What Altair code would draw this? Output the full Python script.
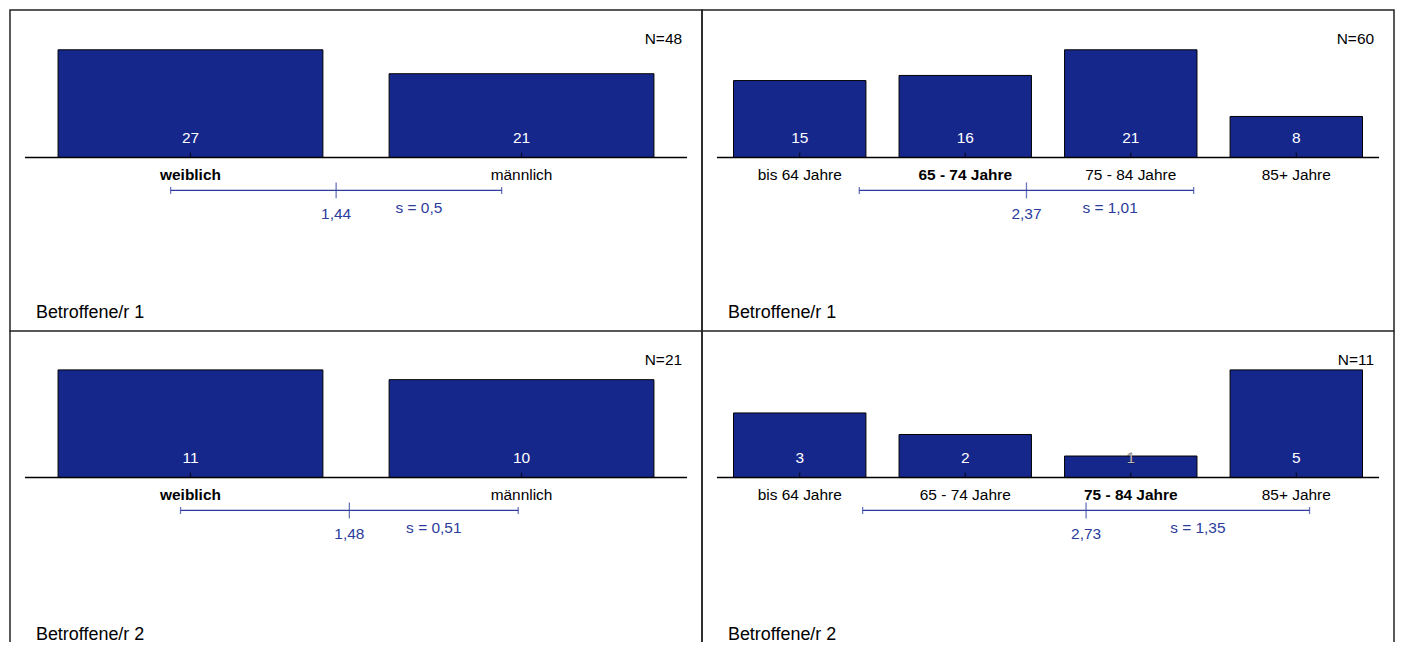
import altair as alt
import pandas as pd

# ---- data ----
gender_cats = ["weiblich", "männlich"]
age_cats = ["bis 64 Jahre", "65 - 74 Jahre", "75 - 84 Jahre", "85+ Jahre"]

p1_gender = [27, 21]
p1_age = [15, 16, 21, 8]
p2_gender = [11, 10]
p2_age = [3, 2, 1, 5]

n_values = [48, 60, 21, 11]
means = [1.44, 2.37, 1.48, 2.73]
sds = [0.5, 1.01, 0.51, 1.35]
titles = ["Betroffene/r 1", "Betroffene/r 1", "Betroffene/r 2", "Betroffene/r 2"]

BAR = "#16278c"
BLUE = "#2c3c9c"
FONT = "Liberation Sans"
W = 694
HT = 322
HB = 312


def de(x):
    return f"{x:g}".replace(".", ",")


def panel(cats, vals, n, mean, sd, title, height, base_px, bottom):
    k = len(cats)
    m = max(vals)
    unit = 108.0  # px height of largest bar
    df = pd.DataFrame({
        "pos": list(range(1, k + 1)),
        "cat": cats,
        "v": vals,
        "bold": [i + 1 == round(mean) for i in range(k)],
    })
    summ = pd.DataFrame({
        "mean": [mean], "sd": [sd], "k": [k],
        "mean_lbl": [de(mean)], "s_lbl": ["s = " + de(sd)],
        "n_lbl": [f"N={n}"], "title": [title],
    })
    pad = 15.0 * k / (W - 30)
    xs = alt.Scale(domain=[0.5 - pad, k + 0.5 + pad], nice=False, zero=False)
    ys = alt.Scale(domain=[-(height - base_px) / unit * m, base_px / unit * m],
                   nice=False, zero=False)

    base = alt.Chart(df)
    sb = alt.Chart(summ).transform_calculate(
        lo="datum.mean - datum.sd", hi="datum.mean + datum.sd",
        smid="datum.mean + datum.sd / 2",
        b0="0.5", b1="datum.k + 0.5")
    yb = alt.Y(datum=0, type="quantitative", scale=ys, axis=None)

    bars = base.transform_calculate(
        x0="datum.pos - 0.4", x1="datum.pos + 0.4"
    ).mark_rect(fill=BAR, stroke="black", strokeWidth=1).encode(
        x=alt.X("x0:Q", scale=xs, axis=None),
        x2="x1:Q",
        y=alt.Y("v:Q", scale=ys, axis=None),
        y2=alt.datum(0),
    )
    baseline = sb.mark_rule(color="black", strokeWidth=1.6).encode(
        x=alt.X("b0:Q", scale=xs, axis=None), x2="b1:Q", y=yb)
    cticks = base.mark_tick(orient="vertical", size=5, thickness=1.2,
                            color="black", yOffset=-2.5).encode(
        x=alt.X("pos:Q", scale=xs, axis=None), y=yb)
    vlabels = base.mark_text(font=FONT, fontSize=15.5, color="white",
                             dy=-20, baseline="middle", strokeWidth=0.35).encode(
        x=alt.X("pos:Q", scale=xs, axis=None), y=yb,
        text="v:Q",
        stroke=alt.condition(f"datum.v / {m} < 0.26", alt.value("black"),
                             alt.value("transparent")),
    )
    clabels_n = base.transform_filter("!datum.bold").mark_text(
        font=FONT, fontSize=15.5, color="black", dy=17.5, baseline="middle"
    ).encode(x=alt.X("pos:Q", scale=xs, axis=None), y=yb, text="cat:N")
    clabels_b = base.transform_filter("datum.bold").mark_text(
        font=FONT, fontSize=15.5, color="black", dy=17.5, baseline="middle",
        fontWeight="bold"
    ).encode(x=alt.X("pos:Q", scale=xs, axis=None), y=yb, text="cat:N")
    sdline = sb.mark_rule(color=BLUE, strokeWidth=1.3, yOffset=33).encode(
        x=alt.X("lo:Q", scale=xs, axis=None), x2="hi:Q", y=yb)
    lo_t = sb.mark_tick(orient="vertical", size=7, thickness=1.3, color=BLUE,
                        yOffset=33).encode(x=alt.X("lo:Q", scale=xs, axis=None), y=yb)
    hi_t = sb.mark_tick(orient="vertical", size=7, thickness=1.3, color=BLUE,
                        yOffset=33).encode(x=alt.X("hi:Q", scale=xs, axis=None), y=yb)
    mean_t = sb.mark_tick(orient="vertical", size=16, thickness=1.3, color=BLUE,
                          yOffset=33).encode(x=alt.X("mean:Q", scale=xs, axis=None), y=yb)
    mean_lbl = sb.mark_text(font=FONT, fontSize=15.5, color=BLUE, dy=57,
                            baseline="middle").encode(
        x=alt.X("mean:Q", scale=xs, axis=None), y=yb, text="mean_lbl:N")
    s_lbl = sb.mark_text(font=FONT, fontSize=15.5, color=BLUE, dy=51,
                         baseline="middle").encode(
        x=alt.X("smid:Q", scale=xs, axis=None), y=yb, text="s_lbl:N")
    n_lbl = alt.Chart(summ).mark_text(font=FONT, fontSize=15.5, color="black",
                                      align="right", baseline="middle").encode(
        x=alt.value(W - 20), y=alt.value(29), text="n_lbl:N")
    t_lbl = alt.Chart(summ).mark_text(font=FONT, fontSize=18, color="black",
                                      align="left", baseline="middle").encode(
        x=alt.value(26), y=alt.value(height - 18 if not bottom else height - 7),
        text="title:N")

    layers = [bars, baseline, cticks, vlabels, clabels_n, clabels_b, sdline,
              lo_t, hi_t, mean_t, mean_lbl, s_lbl, n_lbl, t_lbl]
    if bottom:
        frame_l = alt.Chart(summ).mark_rule(color="#222", strokeWidth=1.5).encode(
            x=alt.value(0), y=alt.value(0), y2=alt.value(height))
        frame_r = alt.Chart(summ).mark_rule(color="#222", strokeWidth=1.5).encode(
            x=alt.value(W), y=alt.value(0), y2=alt.value(height))
        layers += [frame_l, frame_r]
    ch = alt.layer(*layers).properties(width=W, height=height)
    if bottom:
        ch = ch.properties(view=alt.ViewBackground(stroke="transparent"))
    return ch


c1 = panel(gender_cats, p1_gender, n_values[0], means[0], sds[0], titles[0], HT, 148, False)
c2 = panel(age_cats, p1_age, n_values[1], means[1], sds[1], titles[1], HT, 148, False)
c3 = panel(gender_cats, p2_gender, n_values[2], means[2], sds[2], titles[2], HB, 147, True)
c4 = panel(age_cats, p2_age, n_values[3], means[3], sds[3], titles[3], HB, 147, True)

chart = alt.concat(
    c1, c2, c3, c4, columns=2, spacing=0, bounds="flush"
).properties(padding=0).configure_view(
    stroke="#222", strokeWidth=1.5
).configure_concat(spacing=0)

chart.save("out.html", embed_options={"renderer": "svg", "actions": False})
